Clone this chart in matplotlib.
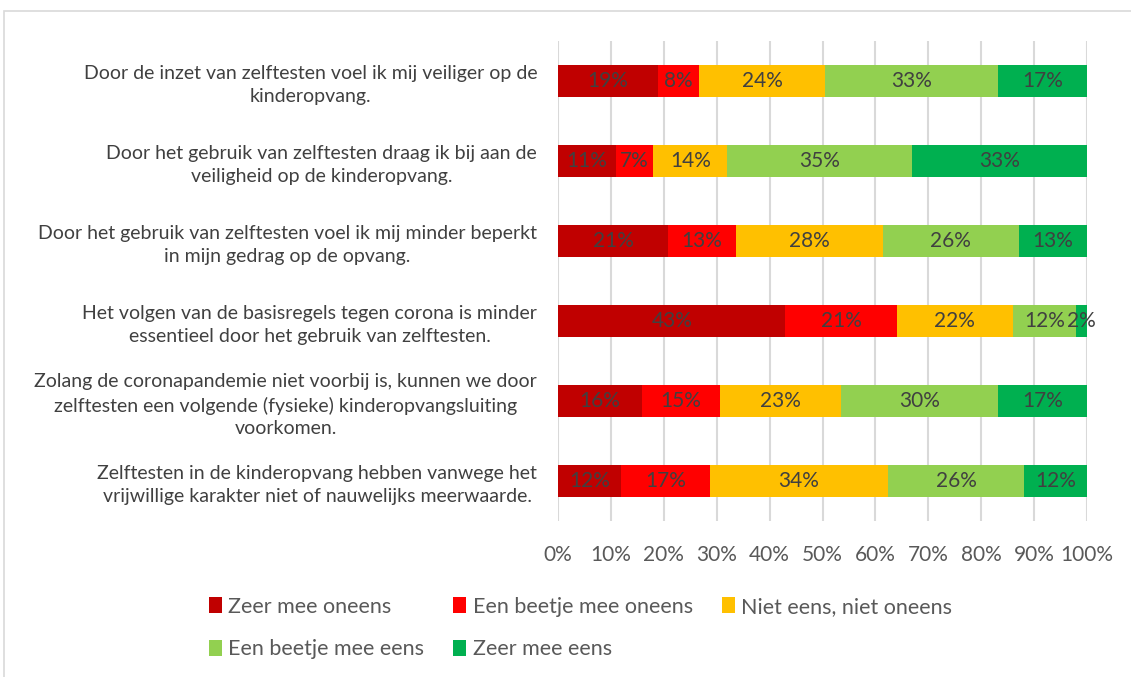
import numpy as np
import matplotlib.pyplot as plt
from matplotlib.patches import Rectangle

plt.rcParams['font.family'] = ['Lato', 'DejaVu Sans']

# stellingen (van boven naar beneden)
stellingen = [
    "Door de inzet van zelftesten voel ik mij veiliger op de\nkinderopvang.",
    "Door het gebruik van zelftesten draag ik bij aan de\nveiligheid op de kinderopvang.",
    "Door het gebruik van zelftesten voel ik mij minder beperkt\nin mijn gedrag op de opvang.",
    "Het volgen van de basisregels tegen corona is minder\nessentieel door het gebruik van zelftesten.",
    "Zolang de coronapandemie niet voorbij is, kunnen we door\nzelftesten een volgende (fysieke) kinderopvangsluiting\nvoorkomen.",
    "Zelftesten in de kinderopvang hebben vanwege het\nvrijwillige karakter niet of nauwelijks meerwaarde.",
]

antwoorden = ["Zeer mee oneens", "Een beetje mee oneens", "Niet eens, niet oneens",
              "Een beetje mee eens", "Zeer mee eens"]
kleuren = ["#C00000", "#FF0000", "#FFC000", "#92D050", "#00B050"]

# percentages per antwoord, per stelling
zeer_oneens = [19, 11, 21, 43, 16, 12]
beetje_oneens = [8, 7, 13, 21, 15, 17]
neutraal = [24, 14, 28, 22, 23, 34]
beetje_eens = [33, 35, 26, 12, 30, 26]
zeer_eens = [17, 33, 13, 2, 17, 12]

waarden = np.array([zeer_oneens, beetje_oneens, neutraal, beetje_eens, zeer_eens], dtype=float)
totaal = waarden.sum(axis=0)
aandeel = waarden / totaal  # 100% gestapeld, zoals in Excel

fig = plt.figure(figsize=(11.31, 6.77), dpi=100)
ax = fig.add_axes([558 / 1131, 1 - 521 / 677, 529 / 1131, 480 / 677])

# kader om de grafiek
fig.patches.append(Rectangle((4 / 1131, -0.1), 1.2, 1 - 11 / 677 + 0.1,
                             transform=fig.transFigure, fill=False,
                             edgecolor='#D9D9D9', linewidth=1.2))

y = np.arange(len(stellingen))
links = np.zeros(len(stellingen))
handles = []
for i in range(5):
    bars = ax.barh(y, aandeel[i], left=links, height=0.4, color=kleuren[i],
                   label=antwoorden[i], zorder=3)
    ax.bar_label(bars, labels=[f"{int(v)}%" for v in waarden[i]], label_type='center',
                 color='#404040', fontsize=15)
    links += aandeel[i]
    handles.append(bars)

ax.set_xlim(0, 1)
ax.set_ylim(5.5, -0.5)
ax.set_xticks(np.linspace(0, 1, 11))
ax.set_xticklabels([f"{p}%" for p in range(0, 101, 10)], color='#595959', fontsize=15)
ax.set_yticks(y)
ax.set_yticklabels(stellingen, color='#404040', fontsize=14, multialignment='center',
                   linespacing=1.4)
ax.tick_params(axis='both', length=0)
ax.tick_params(axis='x', pad=17)
ax.tick_params(axis='y', pad=15)
ax.grid(axis='x', color='#D9D9D9', linewidth=1.5, zorder=0)
for s in ax.spines.values():
    s.set_visible(False)

# legenda rij voor rij
volgorde = [0, 3, 1, 4, 2]
fig.legend([handles[i] for i in volgorde], [antwoorden[i] for i in volgorde],
           ncol=3, loc='upper left', bbox_to_anchor=(198 / 1131, 1 - 586 / 677),
           frameon=False, fontsize=15.5, labelcolor='#595959', borderpad=0,
           handlelength=0.6, handleheight=0.75, handletextpad=0.3,
           labelspacing=1.05, columnspacing=1.35)

fig.savefig('out.png', dpi=100)
